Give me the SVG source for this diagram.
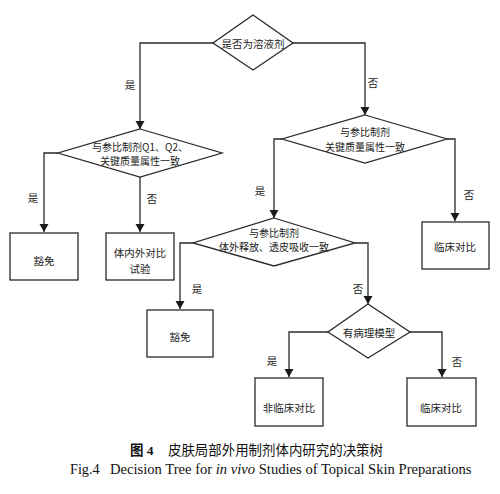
<svg xmlns="http://www.w3.org/2000/svg" width="500" height="494" viewBox="0 0 500 494">
<style>
.shape{fill:#fff;stroke:#2a2a2a;stroke-width:1.3}
.conn{fill:none;stroke:#2a2a2a;stroke-width:1.3}
.t{font-family:"Noto Sans CJK SC","Liberation Serif",serif;font-size:10.5px;fill:#222;text-anchor:middle;dominant-baseline:central}
.t2{font-size:10px}
.lbl{font-family:"Noto Sans CJK SC",sans-serif;font-size:10.5px;fill:#222;text-anchor:middle;dominant-baseline:central}
.cap{font-family:"Liberation Serif","Noto Sans CJK SC",serif;fill:#111}
</style>
<defs>
<marker id="arr" markerWidth="8" markerHeight="12" viewBox="0 0 8 12" refX="8" refY="6" orient="auto" markerUnits="userSpaceOnUse">
<path d="M0,1.5 L8,6 L0,10.5 Z" fill="#1a1a1a"/>
</marker>
</defs>
<g id="connectors">
<polyline class="conn" points="213,43 140,43 140,129" marker-end="url(#arr)"/>
<polyline class="conn" points="293,43 365,43 365,115" marker-end="url(#arr)"/>
<polyline class="conn" points="58,153 44,153 44,232" marker-end="url(#arr)"/>
<polyline class="conn" points="140,177 140,232" marker-end="url(#arr)"/>
<polyline class="conn" points="282,139 274,139 274,218" marker-end="url(#arr)"/>
<polyline class="conn" points="447,139 455,139 455,221" marker-end="url(#arr)"/>
<polyline class="conn" points="193,243 180,243 180,309" marker-end="url(#arr)"/>
<polyline class="conn" points="355,243 368,243 368,304" marker-end="url(#arr)"/>
<polyline class="conn" points="328,332 289,332 289,377" marker-end="url(#arr)"/>
<polyline class="conn" points="410,332 442,332 442,377" marker-end="url(#arr)"/>
<text class="lbl" x="130" y="84">是</text>
<text class="lbl" x="373" y="82">否</text>
<text class="lbl" x="33" y="197">是</text>
<text class="lbl" x="152" y="198">否</text>
<text class="lbl" x="260" y="190">是</text>
<text class="lbl" x="469" y="194">否</text>
<text class="lbl" x="197" y="288">是</text>
<text class="lbl" x="358" y="288">否</text>
<text class="lbl" x="272" y="360">是</text>
<text class="lbl" x="457" y="361">否</text>
</g>
<g id="d1">
<polygon class="shape" points="253,15 293,43 253,70 213,43"/>
<text class="t" x="253" y="43">是否为溶液剂</text>
</g>
<g id="d2">
<polygon class="shape" points="140,129 222,153 140,177 58,153"/>
<text class="t t2" x="140" y="146">与参比制剂Q1、Q2、</text>
<text class="t t2" x="140" y="160.5">关键质量属性一致</text>
</g>
<g id="d3">
<polygon class="shape" points="365,115 447,139 365,163 282,139"/>
<text class="t t2" x="365" y="131.5">与参比制剂</text>
<text class="t t2" x="365" y="146">关键质量属性一致</text>
</g>
<g id="b1">
<rect class="shape" x="10" y="233" width="68" height="47"/>
<text class="t" x="44" y="260">豁免</text>
</g>
<g id="b2">
<rect class="shape" x="106" y="233" width="68" height="47"/>
<text class="t" x="140" y="252">体内外对比</text>
<text class="t" x="140" y="268">试验</text>
</g>
<g id="b6">
<rect class="shape" x="422" y="222" width="67" height="47"/>
<text class="t" x="455" y="246">临床对比</text>
</g>
<g id="d4">
<polygon class="shape" points="274,218 355,243 274,266 193,243"/>
<text class="t t2" x="274" y="232">与参比制剂</text>
<text class="t t2" x="274" y="246.5">体外释放、透皮吸收一致</text>
</g>
<g id="b3">
<rect class="shape" x="147" y="310" width="66" height="47"/>
<text class="t" x="180" y="336">豁免</text>
</g>
<g id="d5">
<polygon class="shape" points="368,304 410,332 368,358 328,332"/>
<text class="t" x="369" y="332">有病理模型</text>
</g>
<g id="b4">
<rect class="shape" x="255" y="378" width="68" height="48"/>
<text class="t" x="289" y="407">非临床对比</text>
</g>
<g id="b5">
<rect class="shape" x="407" y="378" width="69" height="48"/>
<text class="t" x="441" y="407">临床对比</text>
</g>
<g id="caption">
<text class="cap" x="130" y="455" font-size="13.5" font-weight="bold">图 4</text>
<text class="cap" x="168" y="455" font-size="13.5" textLength="215" lengthAdjust="spacingAndGlyphs">皮肤局部外用制剂体内研究的决策树</text>
<text class="cap" x="70" y="474" font-size="14.2">Fig.4</text>
<text class="cap" x="110" y="474" font-size="14.6">Decision Tree for <tspan font-style="italic">in vivo</tspan> Studies of Topical Skin Preparations</text>
</g>
</svg>
